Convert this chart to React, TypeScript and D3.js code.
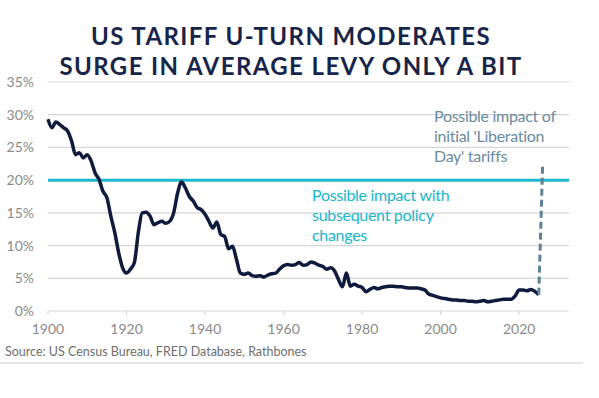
import React, { useRef, useEffect } from 'react';
import * as d3 from 'd3';

// average US tariff rate (%), annual
const startYear = 1900;
const tariffRates = [
  29.3, 28.0, 28.9, 28.5, 28.0, 27.5, 26.0, 23.9, 24.2, 23.4,
  23.9, 22.9, 21.1, 20.1, 18.3, 17.3, 14.5, 12.0, 8.9, 6.6,
  5.8, 6.4, 7.4, 12.0, 15.0, 15.1, 14.5, 13.2, 13.5, 13.7,
  13.4, 13.7, 15.0, 18.0, 19.7, 18.8, 17.5, 16.8, 15.8, 15.5,
  14.8, 13.7, 12.7, 13.6, 11.7, 11.4, 9.5, 9.9, 7.9, 5.8,
  5.6, 5.8, 5.4, 5.3, 5.4, 5.2, 5.5, 5.7, 5.8, 6.4,
  6.9, 7.1, 7.0, 7.1, 7.4, 7.0, 7.1, 7.5, 7.3, 7.0,
  6.8, 6.4, 6.6, 6.1, 4.8, 3.7, 5.8, 3.8, 4.1, 3.8,
  3.6, 2.95, 3.3, 3.6, 3.4, 3.6, 3.7, 3.8, 3.8, 3.7,
  3.7, 3.6, 3.5, 3.5, 3.5, 3.4, 3.2, 2.6, 2.4, 2.2,
  2.0, 1.9, 1.8, 1.7, 1.7, 1.6, 1.6, 1.5, 1.5, 1.4,
  1.5, 1.6, 1.4, 1.5, 1.6, 1.7, 1.8, 1.8, 1.8, 2.3,
  3.2, 3.2, 3.1, 3.3, 3.0, 2.5
];

const subsequentLevel = 20; // post U-turn level
const liberationDayYear = 2026;
const liberationDayLevel = 22.6;

const yTicks = [0, 5, 10, 15, 20, 25, 30, 35];
const xTicks = [1900, 1920, 1940, 1960, 1980, 2000, 2020];

const titleLines = ['US TARIFF U-TURN MODERATES', 'SURGE IN AVERAGE LEVY ONLY A BIT'];
const libLabel = ['Possible impact of', "initial 'Liberation", "Day' tariffs"];
const subLabel = ['Possible impact with', 'subsequent policy', 'changes'];
const sourceText = 'Source: US Census Bureau, FRED Database, Rathbones';

const App = () => {
  const svgRef = useRef(null);
  const W = 599, H = 398;
  const margin = { top: 82, right: 30, bottom: 87, left: 48 };

  useEffect(() => {
    const svg = d3.select(svgRef.current);
    svg.selectAll('*').remove();

    const data = tariffRates.map((v, i) => ({ year: startYear + i, value: v }));

    const x = d3.scaleLinear().domain([1900, 2032.7]).range([margin.left, W - margin.right]);
    const y = d3.scaleLinear().domain([0, 35]).range([H - margin.bottom, margin.top]);

    const font = 'Lato, "Open Sans", sans-serif';

    // title
    svg.append('g').selectAll('text')
      .data(titleLines)
      .join('text')
      .attr('x', 291)
      .attr('y', (d, i) => 45 + i * 30)
      .attr('text-anchor', 'middle')
      .style('font-family', font)
      .style('font-weight', 'bold')
      .style('font-size', '24px')
      .style('letter-spacing', '1.4px')
      .style('fill', '#18254a')
      .text(d => d);

    // gridlines
    svg.append('g').selectAll('line')
      .data(yTicks)
      .join('line')
      .attr('x1', x.range()[0])
      .attr('x2', x.range()[1])
      .attr('y1', d => y(d))
      .attr('y2', d => y(d))
      .style('stroke', '#d6d6d6')
      .style('stroke-width', 1.2);

    // y labels
    svg.append('g').selectAll('text')
      .data(yTicks)
      .join('text')
      .attr('x', 34)
      .attr('y', d => y(d) + 5)
      .attr('text-anchor', 'end')
      .style('font-family', font)
      .style('font-size', '14px')
      .style('fill', '#8a8a8a')
      .text(d => `${d}%`);

    // x ticks + labels
    const xg = svg.append('g');
    xg.selectAll('line')
      .data(xTicks)
      .join('line')
      .attr('x1', d => x(d))
      .attr('x2', d => x(d))
      .attr('y1', y(0))
      .attr('y2', y(0) + 4)
      .style('stroke', '#d6d6d6')
      .style('stroke-width', 1.2);
    xg.selectAll('text')
      .data(xTicks)
      .join('text')
      .attr('x', d => x(d))
      .attr('y', y(0) + 23)
      .attr('text-anchor', 'middle')
      .style('font-family', font)
      .style('font-size', '14px')
      .style('fill', '#8a8a8a')
      .text(d => d);

    // 20% level line
    svg.append('line')
      .attr('x1', x.range()[0])
      .attr('x2', x.range()[1])
      .attr('y1', y(subsequentLevel))
      .attr('y2', y(subsequentLevel))
      .style('stroke', '#1bbad0')
      .style('stroke-width', 3);

    // tariff line
    const line = d3.line()
      .x(d => x(d.year))
      .y(d => y(d.value))
      .curve(d3.curveMonotoneX);
    svg.append('path')
      .datum(data)
      .attr('d', line)
      .style('fill', 'none')
      .style('stroke', '#0f1a3c')
      .style('stroke-width', 3.5)
      .style('stroke-linejoin', 'round');

    // liberation day dashed line
    const last = data[data.length - 1];
    svg.append('line')
      .attr('x1', x(last.year))
      .attr('y1', y(last.value))
      .attr('x2', x(liberationDayYear))
      .attr('y2', y(liberationDayLevel))
      .style('stroke', '#5f8196')
      .style('stroke-width', 3)
      .style('stroke-dasharray', '7,4');

    // annotations
    svg.append('g').selectAll('text')
      .data(libLabel)
      .join('text')
      .attr('x', 434)
      .attr('y', (d, i) => 122 + i * 20)
      .style('font-family', font)
      .style('font-size', '16px')
      .style('letter-spacing', '-0.3px')
      .style('fill', '#6a8a9d')
      .text(d => d);

    svg.append('g').selectAll('text')
      .data(subLabel)
      .join('text')
      .attr('x', 312)
      .attr('y', (d, i) => 201 + i * 20)
      .style('font-family', font)
      .style('font-size', '16px')
      .style('letter-spacing', '-0.3px')
      .style('fill', '#19b5cc')
      .text(d => d);

    // source
    svg.append('text')
      .attr('x', 5)
      .attr('y', 356)
      .style('font-family', font)
      .style('font-size', '12.5px')
      .style('fill', '#6e6e6e')
      .text(sourceText);

    svg.append('line')
      .attr('x1', 0).attr('x2', 583)
      .attr('y1', 363).attr('y2', 363)
      .style('stroke', '#dcdcdc')
      .style('stroke-width', 1.5);
  }, []);

  return (
    <svg ref={svgRef} width={W} height={H}
      style={{ position: 'fixed', top: 0, left: 0, background: '#fff' }} />
  );
};

export default App;
